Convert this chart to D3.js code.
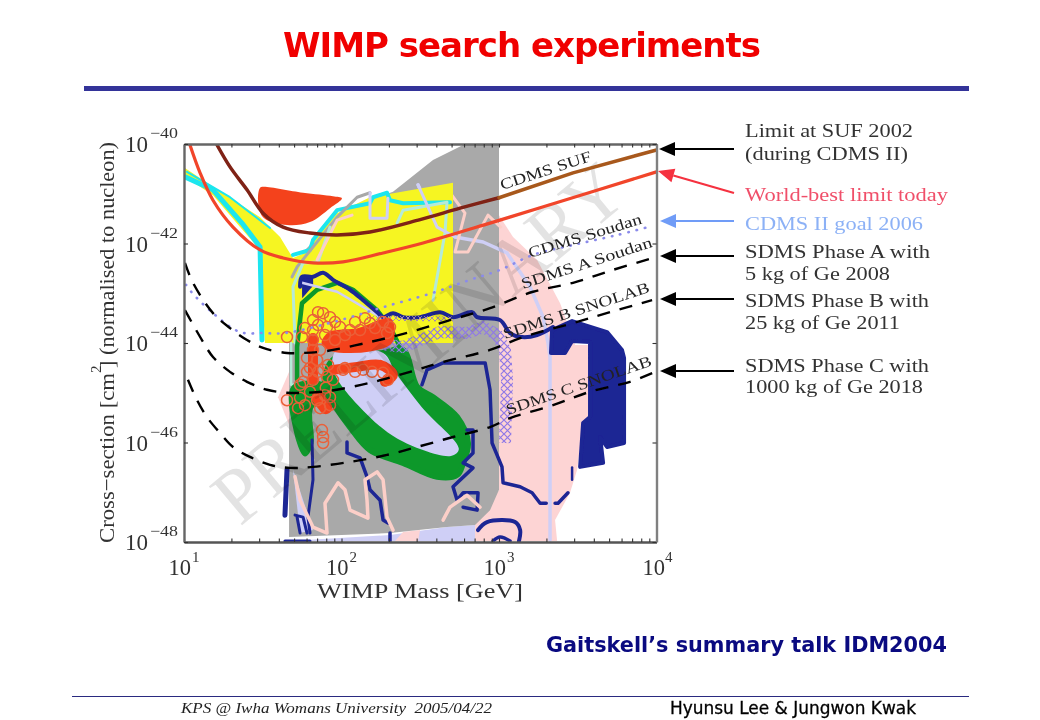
<!DOCTYPE html>
<html><head><meta charset="utf-8">
<script src="https://d3js.org/d3.v7.min.js"></script>
<style>html,body{margin:0;padding:0;background:#fff}svg{display:block}</style></head>
<body><svg id="c" width="1040" height="720" xmlns="http://www.w3.org/2000/svg"></svg>
<script>
// ---- values, as [log10(mass/GeV), log10(sigma/cm2)] ----
const grayRegion=[[1.667,-47.9],[1.667,-43.94],[1.686,-42.63],[1.768,-42.13],[1.864,-41.83],[2.054,-41.27],[2.327,-40.96],[2.581,-40.32],[2.772,-40.02],[3,-40],[3,-46.95],[2.943,-47.36],[2.848,-47.66],[2.67,-47.7],[2.308,-47.82]];
const pinkRight=[[3,-41.43],[3.089,-41.87],[3.242,-42.33],[3.388,-43.2],[3.483,-44.04],[3.578,-44.04],[3.578,-45.51],[3.534,-45.61],[3.496,-46.55],[3.451,-47.01],[3.356,-47.56],[3.369,-47.98],[2.848,-47.98],[2.848,-47.66],[3,-46.95]];
const pinkLeft=[[1.673,-44.54],[1.597,-45.09],[1.673,-45.69],[1.8,-45.69],[1.8,-44.54]];
const pinkPatch=[[2.34,-47.98],[2.391,-47.8],[2.499,-47.76],[2.486,-47.98]];
const lavBottom=[[1.667,-47.98],[2.308,-47.86],[2.67,-47.7],[2.848,-47.66],[2.848,-47.98]];
const lavWedge=[[1.692,-46.55],[1.819,-47.76],[1.737,-47.82]];
const blueRegion=[[3.337,-43.74],[3.464,-43.56],[3.686,-43.78],[3.781,-44.14],[3.794,-44.3],[3.794,-46.01],[3.686,-46.09],[3.642,-45.89],[3.661,-46.41],[3.515,-46.49],[3.534,-45.61],[3.578,-45.49],[3.578,-43.98],[3.464,-43.96],[3.419,-44.2],[3.33,-44.2]];
const lavLine=[[2.486,-40.82],[2.607,-41.67],[2.721,-41.87],[2.899,-41.97],[3.051,-42.19],[3.197,-42.87],[3.28,-43.48],[3.311,-44],[3.324,-44.28],[3.324,-47.96]];
const yellowRegion=[[1.006,-40.48],[1.184,-40.86],[1.483,-41.47],[1.61,-41.87],[1.66,-42.13],[1.692,-42.29],[1.781,-42.17],[1.819,-41.93],[1.972,-41.39],[2.181,-41.07],[2.708,-40.78],[2.708,-44],[1.514,-44],[1.483,-42.13],[1.356,-41.67],[1.184,-41.03],[1.006,-40.66]];
const cyanLeft=[[1.006,-40.66],[1.184,-40.92],[1.368,-41.59],[1.483,-42.07],[1.495,-43.94]];
const cyanThin=[[1.019,-40.56],[1.292,-41.07],[1.546,-41.69]];
const cyanTop=[[1.692,-42.23],[1.8,-42.13],[1.819,-41.93],[1.972,-41.33],[2.181,-41.19],[2.2,-41.07],[2.289,-40.98],[2.308,-41.13],[2.391,-41.19],[2.689,-41.17]];
const paleA=[[1.705,-44],[1.692,-42.87],[1.756,-42.39],[1.851,-42.37],[1.927,-41.67]];
const paleB=[[1.68,-44],[1.68,-44.84],[1.768,-44.84]];
const paleC=[[2.353,-41.59],[2.391,-41.33],[2.67,-41.17],[2.657,-41.79],[2.581,-43.14]];
const pinkA=[[1.845,-42.33],[1.972,-41.53],[2.067,-41.43]];
const pinkB=[[2.575,-40.98],[2.689,-40.98],[2.784,-41.39],[2.721,-42.17],[2.803,-42.17],[2.93,-41.43],[3.01,-41.67]];
const pinkLower=[[1.705,-46.69],[1.737,-47.16],[1.819,-47.7],[1.908,-47.82],[1.895,-47.22],[1.978,-46.81],[2.022,-46.95],[2.054,-47.36],[2.168,-47.52],[2.162,-47.16],[2.149,-46.75],[2.226,-46.59],[2.264,-46.75],[2.289,-47.5],[2.327,-47.76]];
const pinkLower2=[[2.645,-47.56],[2.689,-47.3],[2.797,-47.06],[2.88,-47.3]];
const lavSquare=[[2.181,-40.98],[2.181,-41.49],[2.289,-41.49],[2.295,-41.09]];
const grayLine=[[1.686,-42.67],[1.718,-42.47],[1.972,-41.47],[2.099,-41.07],[2.181,-40.98]];
const redBlob=[[1.483,-40.88],[1.47,-41.13],[1.502,-41.47],[1.654,-41.63],[1.8,-41.57],[1.927,-41.29],[2.003,-41.09],[1.946,-41.05],[1.756,-40.98],[1.502,-40.86]];
const greenMain=[[2.391,-44.14],[2.48,-44.88],[2.581,-45.09],[2.734,-45.49],[2.803,-46.01],[2.772,-46.41],[2.734,-46.65],[2.607,-46.69],[2.391,-46.41],[2.181,-46.15],[2.054,-45.69],[1.946,-45.21],[1.895,-44.94],[1.946,-44.34],[2.264,-44.2]];
const greenLeft=[[1.692,-44.88],[1.705,-45.75],[1.768,-46.25],[1.813,-46.01],[1.813,-45.29],[1.927,-45.15],[1.895,-44.84]];
const greenTop=[[1.718,-44.74],[1.718,-44.08],[1.749,-43.2],[1.845,-42.93],[1.972,-42.79],[2.073,-42.93],[2.226,-43.34],[2.308,-43.68],[2.372,-44.08]];
const lavCore=[[1.94,-44.4],[1.972,-44.14],[2.264,-44.2],[2.345,-44.6],[2.51,-45.29],[2.745,-46.13],[2.695,-46.27],[2.353,-45.92],[2.105,-45.25],[1.965,-44.68]];
const lavTop=[[1.749,-42.79],[1.972,-42.97],[2.226,-43.44],[2.3,-43.6]];
const navyTop=[[1.737,-42.87],[1.749,-42.67],[1.819,-42.67],[1.883,-42.59],[1.946,-42.73],[2.054,-42.93],[2.137,-43.14],[2.226,-43.38],[2.264,-43.48],[2.327,-43.4],[2.391,-43.48],[2.499,-43.48],[2.626,-43.38],[2.708,-43.48],[2.829,-43.38],[2.861,-43.48],[3.007,-43.54],[3.07,-43.8],[3.146,-43.88],[3.242,-43.84],[3.343,-43.68]];
const navyPatch=[[1.749,-42.67],[1.82,-42.67],[1.82,-42.85],[1.75,-43.1]];
const navyCenter=[[2.511,-44.84],[2.543,-44.54],[2.645,-44.4],[2.912,-44.4],[2.943,-44.94],[2.956,-46.01],[3.019,-46.49],[3.026,-46.81],[3.134,-46.89],[3.21,-47.01],[3.261,-47.22],[3.3,-47.22]];
const navyCenter2=[[3.356,-47.22],[3.375,-47.22],[3.438,-47.01]];
const navyCenter3=[[3.464,-46.5],[3.464,-46.75]];
const navyLoop=[[2.867,-47.76],[2.924,-47.6],[3.102,-47.6],[3.134,-47.76],[3.127,-47.98]];
const navyArc=[[2.962,-47.98],[3.007,-47.9],[3.07,-47.98]];
const navyA=[[2.797,-45.75],[2.835,-45.75],[2.835,-46.21],[2.772,-46.41],[2.835,-46.51],[2.708,-46.89],[2.734,-47.16],[2.772,-47.01],[2.867,-47.01],[2.861,-47.36],[2.772,-47.3]];
const navyB=[[1.813,-45.95],[1.819,-46.75],[1.787,-47.5],[1.8,-47.82]];
const navyC=[[1.654,-46.55],[1.641,-47.46]];
const navyD=[[1.705,-47.46],[1.756,-47.5],[1.781,-47.82]];
const navyD2=[[1.718,-47.5],[1.737,-47.82]];
const navyE=[[2.035,-45.99],[2.035,-46.21],[2.118,-46.31],[2.162,-46.69],[2.181,-46.95],[2.245,-47.16],[2.264,-47.56],[2.295,-47.62]];
const navyBase=[[1.641,-47.98],[1.8,-47.98]];
const navyF=[[2.308,-47.82],[2.308,-47.98]];
const sufLeft=[[1.21,-40.02],[1.292,-40.46],[1.4,-40.92],[1.502,-41.39],[1.629,-41.67],[1.8,-41.79],[1.972,-41.83],[2.181,-41.77],[2.499,-41.52],[2.753,-41.29],[3,-41.08]];
const sufRight=[[3,-41.08],[3.47,-40.58],[4,-40.12]];
const worldBest=[[1.038,-40.02],[1.102,-40.58],[1.184,-41.13],[1.311,-41.67],[1.483,-42.13],[1.629,-42.29],[1.819,-42.39],[2.01,-42.37],[2.264,-42.19],[2.518,-41.99],[2.943,-41.59],[3.261,-41.28],[4,-40.56]];
const soudan=[[1.013,-42.83],[1.051,-42.99],[1.184,-43.4],[1.356,-43.78],[1.502,-43.8],[1.641,-43.8],[1.991,-43.54],[2.264,-43.28],[2.581,-42.99],[2.816,-42.73],[3.007,-42.53],[3.216,-42.23],[3.47,-42.03],[3.75,-41.83],[3.946,-41.67]];
const phaseA=[[1.006,-42.39],[1.057,-42.79],[1.184,-43.4],[1.292,-43.7],[1.4,-43.94],[1.502,-44.1],[1.654,-44.2],[1.756,-44.2],[1.908,-44.16],[2.181,-43.98],[2.435,-43.78],[2.689,-43.54],[2.943,-43.3],[3.216,-42.97],[3.47,-42.79],[3.724,-42.53],[3.978,-42.29]];
const phaseB=[[1.006,-43.34],[1.114,-43.94],[1.184,-44.28],[1.292,-44.58],[1.4,-44.78],[1.527,-44.94],[1.654,-45],[1.781,-45],[1.927,-44.96],[2.181,-44.8],[2.435,-44.58],[2.645,-44.38],[2.943,-44.14],[3.153,-43.88],[3.47,-43.6],[3.705,-43.38],[3.972,-43.14]];
const phaseC=[[1.025,-44.74],[1.083,-45.15],[1.146,-45.49],[1.229,-45.81],[1.311,-46.09],[1.419,-46.29],[1.546,-46.45],[1.673,-46.51],[1.819,-46.49],[2.054,-46.39],[2.289,-46.25],[2.48,-46.09],[2.708,-45.89],[2.943,-45.69],[3.07,-45.51],[3.343,-45.25],[3.578,-44.98],[3.832,-44.78],[3.978,-44.6]];
const violetBand=[[1.946,-44.08],[2.181,-43.9],[2.289,-44.04],[2.391,-44.08],[2.626,-43.78],[2.797,-43.8],[2.899,-43.68],[2.988,-43.84],[3.038,-44.14],[3.051,-44.74],[3.038,-46.01]];
const violetRow=[[2.162,-43.5],[2.708,-43.52]];
const redFill=[[1.883,-44],[1.927,-43.8],[2.099,-43.74],[2.308,-43.54],[2.327,-43.88],[2.308,-44],[2.181,-44.14],[1.946,-44.14]];
const redArc=[[1.946,-44.54],[2.099,-44.48],[2.245,-44.44],[2.327,-44.64],[2.276,-44.78]];
const redColumn=[[1.819,-43.9],[1.819,-44.74]];
const redCluster=[[1.851,-45.1],[1.9,-45.3]];
const circlePoints=[[1.654,-43.88],[1.749,-43.88],[1.819,-43.54],[1.819,-43.74],[1.819,-43.94],[1.883,-43.4],[1.851,-43.38],[1.927,-43.48],[1.991,-43.68],[2.054,-43.74],[2.118,-43.74],[2.181,-43.6],[2.264,-43.58],[2.308,-43.68],[2.289,-43.8],[1.908,-43.68],[1.819,-44.14],[1.781,-44.3],[1.845,-44.34],[1.781,-44.58],[1.883,-44.54],[1.756,-44.78],[1.819,-44.74],[1.908,-44.68],[1.946,-44.74],[1.654,-45.15],[1.737,-45.1],[1.724,-45.31],[1.845,-45.15],[1.864,-45.31],[1.927,-45.09],[1.927,-45.25],[1.876,-45.75],[1.883,-45.89],[1.883,-46.01],[2.295,-44.74],[2.01,-44.54],[2.137,-44.54],[2.264,-44.6],[1.737,-44.84],[1.864,-44.14],[1.851,-43.64],[1.895,-43.84],[1.959,-43.58],[2.022,-43.84],[2.086,-43.58],[2.149,-43.5],[2.213,-43.7],[1.768,-43.7],[1.959,-43.94],[2.022,-44.5],[2.086,-44.58],[2.194,-44.58],[1.914,-44.44],[1.851,-44.58],[1.895,-45.05],[1.8,-44.98],[1.768,-45.25],[1.8,-44.5],[1.9,-44.9]];
const crossPoints=[[2.073,-44.3],[2.213,-44.98],[2.403,-45.41],[2.511,-45.47],[2.638,-44.38],[2.181,-44.64],[2.816,-46.49],[2.924,-46.47],[2.34,-47.76],[1.991,-44.14],[2.264,-44.2]];
const xMajor=[10,100,1000,10000], yMajor=[-40,-42,-44,-46,-48];
const xMinorFactors=[2,3,4,5,6,7,8,9];
const curveNames=["CDMS SUF","CDMS Soudan","SDMS A Soudan","SDMS B SNOLAB","SDMS C SNOLAB"];
const legendLines=["Limit at SUF 2002","(during CDMS II)","World-best limit today","CDMS II goal 2006","SDMS Phase A with","5 kg of Ge 2008","SDMS Phase B with","25 kg of Ge 2011","SDMS Phase C with","1000 kg of Ge 2018"];

// ---- layout ----
const svg=d3.select("#c");
const xs=d3.scaleLog().domain([10,1e4]).range([184,656.5]);
const ys=d3.scaleLog().domain([1e-48,1e-40]).range([542,144]);
const px=d=>xs(10**d[0]), py=d=>ys(10**d[1]);
const lin=d3.line().x(px).y(py);
const smooth=d3.line().x(px).y(py).curve(d3.curveCatmullRom.alpha(.5));
const closed=d3.line().x(px).y(py).curve(d3.curveLinearClosed);
const round=d3.line().x(px).y(py).curve(d3.curveCatmullRomClosed.alpha(.5));
const SERIF="'Liberation Serif','Times New Roman',serif";

const defs=svg.append("defs");
defs.append("filter").attr("id","soft").attr("filterUnits","userSpaceOnUse").attr("x",0).attr("y",0).attr("width",1040).attr("height",720)
  .append("feGaussianBlur").attr("stdDeviation",.7);
defs.append("clipPath").attr("id","frame").append("rect").attr("x",184).attr("y",144).attr("width",472.5).attr("height",398);
const pat=defs.append("pattern").attr("id","xh").attr("patternUnits","userSpaceOnUse").attr("width",7).attr("height",7);
pat.append("path").attr("d","M0,0L7,7M7,0L0,7").attr("stroke","#8f78e6").attr("stroke-width",1.2);
const pat2=defs.append("pattern").attr("id","xh2").attr("patternUnits","userSpaceOnUse").attr("width",6).attr("height",6);
pat2.append("path").attr("d","M0,0L6,6M6,0L0,6").attr("stroke","#a58ab0").attr("stroke-width",1);

const chart=svg.append("g").attr("filter","url(#soft)");
const plot=chart.append("g").attr("clip-path","url(#frame)");
plot.append("rect").attr("x",184).attr("y",144).attr("width",472.5).attr("height",398).attr("fill","#fff");

const fill=(d,c,gen=closed,sw=0)=>plot.append("path").attr("d",gen(d)).attr("fill",c).attr("stroke",sw?c:"none").attr("stroke-width",sw).attr("stroke-linejoin","round");
const stroke=(d,c,w,gen=lin,extra={})=>{const p=plot.append("path").attr("d",gen(d)).attr("fill","none").attr("stroke",c).attr("stroke-width",w).attr("stroke-linejoin","round").attr("stroke-linecap","round");Object.entries(extra).forEach(([k,v])=>p.attr(k,v));return p;};

const PINK="#fdd4d4",GRAY="#a9a9a9",LAV="#cfcff6",NAVY="#1e2594",YEL="#f6f524",CYAN="#1ae6ee",PALE="#b4ead8",GREEN="#0a982c",RED="#f4431e",PINKLN="#fccfc8";

fill(pinkRight,PINK); fill(pinkLeft,PINK); fill(lavBottom,LAV); fill(pinkPatch,PINK);
fill(grayRegion,GRAY);
stroke(lavLine,LAV,3.5);
fill(blueRegion,NAVY,closed,4);
fill(lavWedge,LAV);
stroke(pinkB,PINKLN,3);
fill(yellowRegion,YEL);
stroke(cyanLeft,CYAN,5); stroke(cyanThin,CYAN,2); stroke(cyanTop,CYAN,4);
stroke(grayLine,"#a8a8a8",3);
stroke(paleA,PALE,3); stroke(paleB,PALE,2.5); stroke(paleC,PALE,3);
stroke(pinkA,PINKLN,3); stroke(lavSquare,LAV,3);
stroke(lavLine.slice(0,3),LAV,3);
fill(redBlob,RED,round);
stroke(greenTop,GREEN,4.5);
fill(greenMain,GREEN,round,6); fill(greenLeft,GREEN,round,3);
fill(lavCore,LAV,round);
fill(navyPatch,NAVY);
stroke(lavTop,LAV,2.5);
stroke(navyTop,NAVY,4,smooth);
stroke(navyCenter,NAVY,3.5,lin); stroke(navyCenter2,NAVY,3.5); stroke(navyCenter3,NAVY,2.5);
stroke(navyLoop,NAVY,4,smooth); stroke(navyArc,NAVY,3.5,smooth); stroke(navyA,NAVY,3.5);
stroke(navyB,NAVY,3); stroke(navyC,NAVY,5); stroke(navyD,NAVY,3); stroke(navyD2,NAVY,3);
stroke(navyE,NAVY,3.5); stroke(navyBase,NAVY,3); stroke(navyF,NAVY,3.5);
stroke(pinkLower,PINKLN,3.5); stroke(pinkLower2,PINKLN,3.5);
stroke(violetRow,"url(#xh2)",5,lin,{"stroke-linecap":"butt"});
stroke(violetBand,"url(#xh)",12,lin,{"stroke-linecap":"butt"});
fill(redFill,RED,round,3);
stroke(redArc,RED,10,smooth); stroke(redColumn,RED,10); stroke(redCluster,RED,13);

plot.append("g").selectAll("circle").data(circlePoints).join("circle")
  .attr("cx",px).attr("cy",py).attr("r",5.5).attr("fill","none").attr("stroke","#ea6038").attr("stroke-width",1.5);
plot.append("g").selectAll("path").data(crossPoints).join("path")
  .attr("d",d3.symbol(d3.symbolX,26)()).attr("transform",d=>`translate(${px(d)},${py(d)})`).attr("fill","#ee5a55");

// PRELIMINARY watermark
plot.append("text").text("PRELIMINARY").attr("transform","translate(240,527) rotate(-40)")
  .attr("font-family",SERIF).attr("font-size",78).attr("textLength",510).attr("lengthAdjust","spacingAndGlyphs")
  .attr("fill","#dadada").attr("opacity",.75).style("mix-blend-mode","multiply");

stroke(soudan,"#8b8bea",2.6,smooth,{"stroke-dasharray":"0.5 8"});
stroke(phaseA,"#000",2.4,smooth,{"stroke-dasharray":"13 10","stroke-linecap":"butt"});
stroke(phaseB,"#000",2.4,smooth,{"stroke-dasharray":"13 10","stroke-linecap":"butt"});
stroke(phaseC,"#000",2.4,smooth,{"stroke-dasharray":"13 10","stroke-linecap":"butt"});
stroke(sufLeft,"#7f2212",3.5,smooth);
stroke(sufRight,"#a8591c",3.5,lin);
stroke(worldBest,"#f1452a",3.2,smooth);

// axes
const xTicks=xMajor.slice(0,3).flatMap(m=>xMinorFactors.map(f=>m*f)).concat(xMajor);
const yTicks=yMajor.map(e=>10**e);
const frame=c=>s=>{s.selectAll(".domain").attr("stroke",c).attr("stroke-width",2.4);s.selectAll(".tick line").attr("stroke","#333").attr("stroke-width",1.1);s.selectAll(".tick text").remove();};
chart.append("g").attr("transform","translate(0,542)").call(d3.axisBottom(xs).tickValues(xTicks).tickSize(-3.5).tickSizeOuter(0)).call(frame("#555"));
chart.append("g").attr("transform","translate(0,144)").call(d3.axisTop(xs).tickValues(xTicks).tickSize(-3.5).tickSizeOuter(0)).call(frame("#666"));
chart.append("g").attr("transform","translate(184,0)").call(d3.axisLeft(ys).tickValues(yTicks).tickSize(-4).tickSizeOuter(0)).call(frame("#666"));
chart.append("g").attr("transform","translate(656.5,0)").call(d3.axisRight(ys).tickValues(yTicks).tickSize(-4).tickSizeOuter(0)).call(frame("#808080"));

const label=(t,x,y,size,o={})=>{const e=chart.append("text").text(t).attr("x",x).attr("y",y).attr("font-family",SERIF).attr("font-size",size).attr("fill",o.fill||"#333");
  if(o.len)e.attr("textLength",o.len).attr("lengthAdjust","spacingAndGlyphs");if(o.rot!==undefined)e.attr("transform",`rotate(${o.rot} ${x} ${y})`);return e;};
yMajor.forEach(e=>{const v=ys(10**e);
  label("10",125,v+8,23,{len:23});
  label("\u2212"+Math.abs(e),150,v-6,15,{len:28});
});
xMajor.forEach((m,i)=>{const v=xs(m);
  label("10",v-(i==3?14:15.5),575,23,{len:22.5});
  label(String(i+1),v+(i==3?8.5:8),562,15);
});
label("WIMP Mass [GeV]",317,598,22,{len:206});
label("Cross\u2212section [cm",114,543,22,{rot:-90,len:170});
label("2",101,373,15,{rot:-90});
label("] (normalised to nucleon)",114,368,22,{rot:-90,len:226});

// curve names
const nameSpots=[[502,190,-18,95],[530,258,-17,118],[523,289,-18,137],[505,339,-18,153],[508,415,-19,153]];
curveNames.forEach((n,i)=>{const s=nameSpots[i];label(n,s[0],s[1],15.5,{rot:s[2],len:s[3],fill:"#222"});});

// legend rows and arrows
const legendSpots=[[137,168,"#333"],[160,163,"#333"],[201,203,"#f0506a"],[230,178,"#8cb1f6"],[258,185,"#333"],[280,145,"#333"],[307,184,"#333"],[329,155,"#333"],[372,184,"#333"],[393,178,"#333"]];
legendLines.forEach((t,i)=>{const s=legendSpots[i];label(t,745,s[0],19,{len:s[1],fill:s[2]});});
const arrowSpots=[[734,149,659,149,"#000"],[734,193,658,171,"#f5303f"],[734,221,660,221,"#6f9cf7"],[734,256,660,256,"#000"],[734,299,660,299,"#000"],[734,371,660,371,"#000"]];
arrowSpots.forEach(([x1,y1,x2,y2,c])=>{
  const a=Math.atan2(y2-y1,x2-x1),L=16,H=7,bx=x2-L*Math.cos(a),by=y2-L*Math.sin(a);
  chart.append("line").attr("x1",x1).attr("y1",y1).attr("x2",bx).attr("y2",by).attr("stroke",c).attr("stroke-width",2.2);
  chart.append("path").attr("fill",c).attr("d",`M${x2},${y2}L${bx-H*Math.sin(a)},${by+H*Math.cos(a)}L${bx+H*Math.sin(a)},${by-H*Math.cos(a)}Z`);
});

// slide furniture
const page=svg.append("g");
page.append("text").text("WIMP search experiments").attr("x",283).attr("y",57).attr("font-family","'DejaVu Sans',sans-serif").attr("font-weight","bold").attr("font-size",34).attr("fill","#f00000").attr("textLength",478).attr("lengthAdjust","spacing");
page.append("rect").attr("x",84).attr("y",86).attr("width",885).attr("height",5).attr("fill","#333399");
page.append("text").text("Gaitskell\u2019s summary talk IDM2004").attr("x",546).attr("y",652).attr("font-family","'DejaVu Sans',sans-serif").attr("font-weight","bold").attr("font-size",21).attr("fill","#0a0a80").attr("textLength",401).attr("lengthAdjust","spacingAndGlyphs");
page.append("rect").attr("x",72).attr("y",696).attr("width",897).attr("height",1).attr("fill","#2a2a80");
page.append("text").text("KPS @ Iwha Womans University  2005/04/22").attr("x",181).attr("y",713).attr("font-family",SERIF).attr("font-style","italic").attr("font-size",15).attr("fill","#222").attr("textLength",311).attr("lengthAdjust","spacingAndGlyphs").attr("xml:space","preserve");
page.append("text").text("Hyunsu Lee & Jungwon Kwak").attr("x",670).attr("y",714).attr("font-family","'DejaVu Sans',sans-serif").attr("font-size",17).attr("fill","#000").attr("stroke","#000").attr("stroke-width",.3).attr("textLength",246).attr("lengthAdjust","spacingAndGlyphs");
</script></body></html>
